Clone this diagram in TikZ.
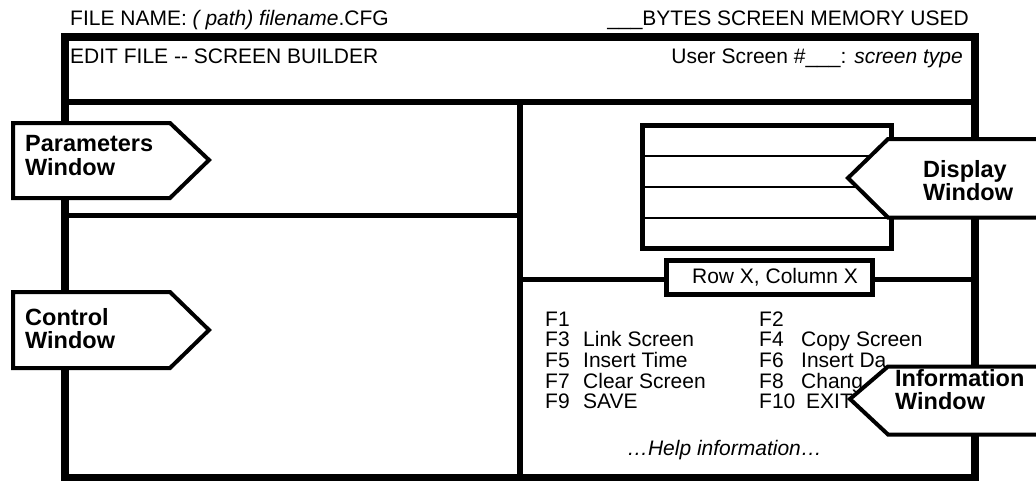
\documentclass[tikz,border=0pt]{standalone}
\usepackage{fontspec}
\setmainfont{Liberation Sans}
\begin{document}
\begin{tikzpicture}[x=1pt,y=-1pt,
  txt/.style={font=\fontsize{21}{21}\selectfont, inner sep=0pt, anchor=base west},
  txtr/.style={txt, anchor=base east},
  lbl/.style={font=\bfseries\fontsize{23.5}{23.5}\selectfont, inner sep=0pt, anchor=base west},
  callout/.style={draw=black, fill=white, line width=4pt, line join=miter},
  frame/.style={draw=black, line width=7.5pt},
  divider/.style={draw=black, line width=5.5pt},
  thinline/.style={draw=black, line width=2pt},
  boxline/.style={draw=black, line width=5pt}]
\useasboundingbox (0,0) rectangle (1036,480);
\clip (0,0) rectangle (1036,480);
% top labels
\node[txt] (fname) at (70,25) {FILE NAME: \textit{( path) filename}.CFG};
\node[txtr] (bytes) at (969,25) {\_\_\_BYTES SCREEN MEMORY USED};
% main frame
\coordinate (tl) at (65,37);
\coordinate (br) at (975,478);
\draw[frame] (tl) rectangle (br);
\draw[divider, line width=6pt] (65,101.5) -- (975,101.5);
\draw[divider, line width=6pt] (519.5,101.5) -- (519.5,478);
\draw[divider, line width=5pt] (65,215.5) -- (519.5,215.5);
\draw[divider, line width=5pt] (519.5,279.5) -- (975,279.5);
% header
\node[txt] (title) at (70,63) {EDIT FILE -{}- SCREEN BUILDER};
\node[txtr] (uscreen) at (963,63) {User Screen \#\_\_\_: \textit{screen type}};
% display box
\draw[boxline] (642,125.5) rectangle (891,248);
\draw[thinline] (642,155.5) -- (891,155.5);
\draw[thinline] (642,186.5) -- (891,186.5);
\draw[thinline] (642,217.5) -- (891,217.5);
% row/column box
\node[draw=black, line width=5pt, fill=white, minimum width=206pt, minimum height=34pt, inner sep=0pt,
      font=\fontsize{21}{21}\selectfont] (rowcol) at (769,277) {\hspace*{12pt}Row X, Column X};
% function keys
\node[txt] (f1) at (545,326) {F1};
\node[txt] (f3) at (545,346.7) {F3};
\node[txt] (f5) at (545,367.4) {F5};
\node[txt] (f7) at (545,388.1) {F7};
\node[txt] (f9) at (545,408.8) {F9};
\node[txt] (d3) at (583,346.7) {Link Screen};
\node[txt] (d5) at (583,367.4) {Insert Time};
\node[txt] (d7) at (583,388.1) {Clear Screen};
\node[txt] (d9) at (583,408.8) {SAVE};
\node[txt] (f2) at (759,326) {F2};
\node[txt] (f4) at (759,346.7) {F4};
\node[txt] (f6) at (759,367.4) {F6};
\node[txt] (f8) at (759,388.1) {F8};
\node[txt] (f10) at (759,408.8) {F10};
\node[txt] (d4) at (801,346.7) {Copy Screen};
\node[txt] (d6) at (801,367.4) {Insert Da};
\node[txt] (d8) at (801,388.1) {Chang};
\node[txt] (d10) at (806,408.8) {EXIT};
\node[txt, anchor=base, font=\itshape\fontsize{21}{21}\selectfont] (help) at (724.5,455) {\dots Help information\dots};
% callouts
\draw[callout] (13,123) -- (170,123) -- (209,160) -- (170,198) -- (13,198) -- cycle;
\node[lbl] (par1) at (25,151) {Parameters};
\node[lbl] (par2) at (25,175) {Window};
\draw[callout] (13,292) -- (170,292) -- (209,330) -- (170,368) -- (13,368) -- cycle;
\node[lbl] (con1) at (25,325) {Control};
\node[lbl] (con2) at (25,348) {Window};
\draw[callout] (1045,139) -- (888,139) -- (848,178) -- (888,217.5) -- (1045,217.5) -- cycle;
\node[lbl] (dis1) at (923,177) {Display};
\node[lbl] (dis2) at (923,200) {Window};
\draw[callout] (1045,366.5) -- (888,366.5) -- (850,399) -- (888,434.5) -- (1045,434.5) -- cycle;
\node[lbl] (inf1) at (895,386) {Information};
\node[lbl] (inf2) at (895,409) {Window};
\end{tikzpicture}
\end{document}
